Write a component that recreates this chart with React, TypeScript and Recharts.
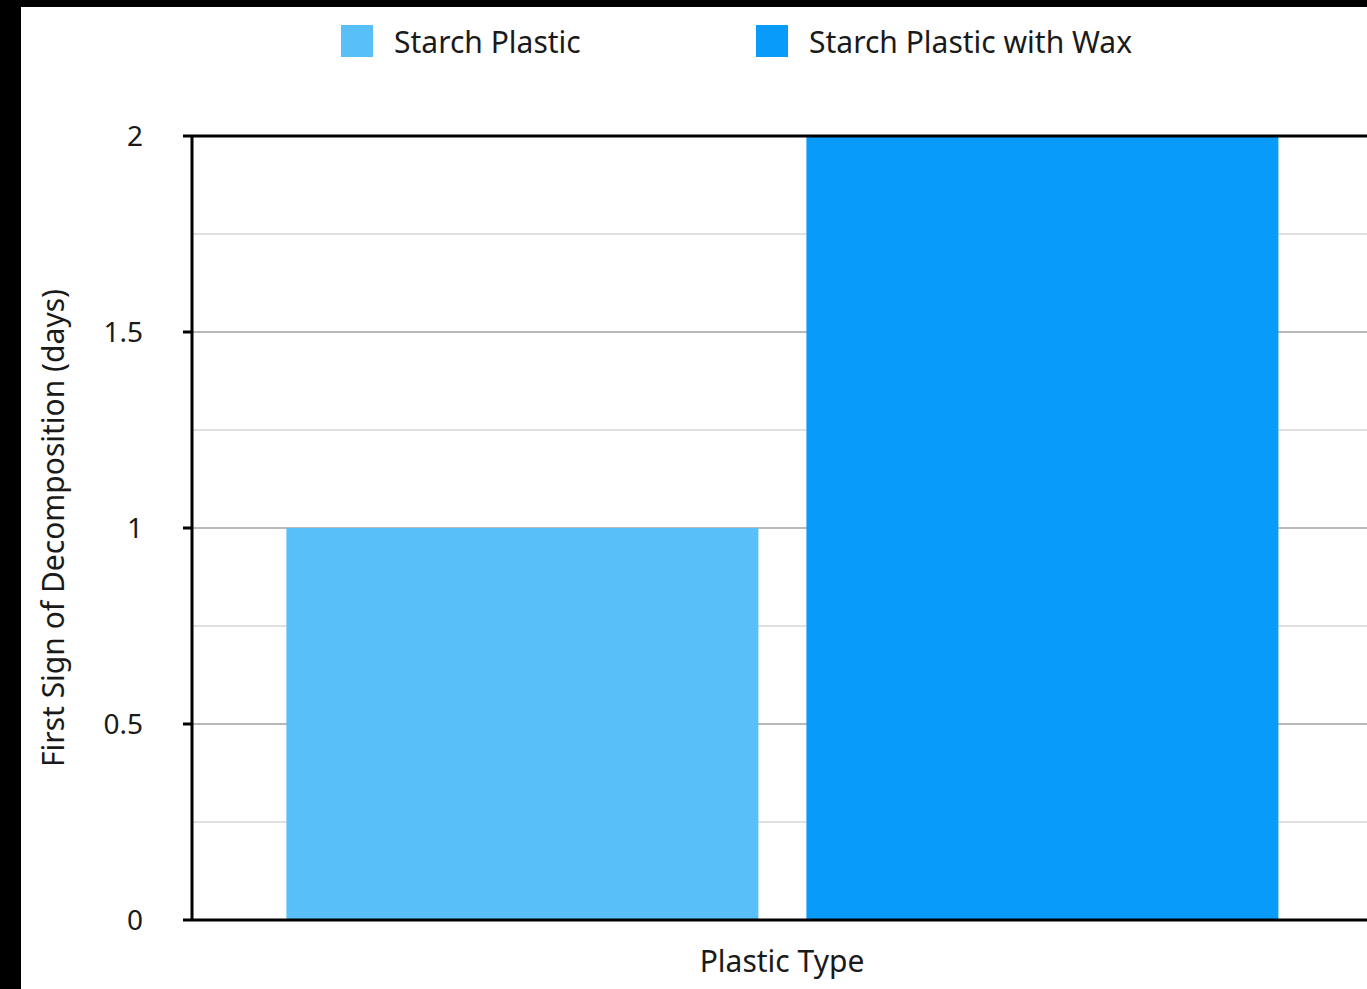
import React from 'react'
import { BarChart, Bar, XAxis, YAxis, CartesianGrid, ReferenceLine } from 'recharts'

const categories = ['Plastic Type']
const seriesNames = ['Starch Plastic', 'Starch Plastic with Wax']
const seriesColors = ['#58BFF9', '#089BFA']
const starchValues = [1]
const waxValues = [2]
const yTicks = [0, 0.5, 1, 1.5, 2]
const minorTicks = [0.25, 0.75, 1.25, 1.75]

const FONT = '"Noto Sans", "Open Sans", sans-serif'

const data = categories.map((c, i) => ({ type: c, starch: starchValues[i], wax: waxValues[i] }))

const YLabel = ({ viewBox }: any) => {
  const cy = viewBox.y + viewBox.height / 2
  return (
    <text x={52} y={cy} transform={`rotate(-90 52 ${cy})`} textAnchor="middle" dominantBaseline="central"
      style={{ fontFamily: FONT, fontSize: 30, fill: '#1a1a1a' }}>
      First Sign of Decomposition (days)
    </text>
  )
}

const XLabel = ({ viewBox }: any) => (
  <text x={viewBox.x + viewBox.width / 2} y={viewBox.y + 40} textAnchor="middle" dominantBaseline="central"
    style={{ fontFamily: FONT, fontSize: 30, fill: '#1a1a1a' }}>
    Plastic Type
  </text>
)

export default function App() {
  return (
    <div style={{ position: 'absolute', left: 0, top: 0, width: 1367, height: 989, background: '#000', overflow: 'hidden' }}>
      <div style={{ position: 'absolute', left: 21, top: 7, width: 1346, height: 982, background: '#fff' }} />

      {/* legend drawn as plain html so it doesn't eat into the plot margins */}
      <div style={{ position: 'absolute', left: 341, top: 25, display: 'flex', fontFamily: FONT, fontSize: 30, color: '#1a1a1a' }}>
        {seriesNames.map((name, i) => (
          <div key={name} style={{ width: 415, display: 'flex', alignItems: 'center', height: 32 }}>
            <span style={{ width: 32, height: 32, background: seriesColors[i], marginRight: 21, flex: 'none' }} />
            <span>{name}</span>
          </div>
        ))}
      </div>

      <div style={{ position: 'absolute', left: 0, top: 0 }}>
        <BarChart width={1400} height={989} data={data} margin={{ top: 136, right: 28, left: 0, bottom: 9 }}
          barCategoryGap="8%" barGap={48}>
          <CartesianGrid vertical={false} horizontalValues={minorTicks} stroke="#d4d4d4" strokeWidth={1.5} />
          <CartesianGrid vertical={false} horizontalValues={[0.5, 1, 1.5]} stroke="#b8b8b8" strokeWidth={2} />
          <XAxis dataKey="type" tick={false} height={60} axisLine={{ stroke: '#000', strokeWidth: 3 }} tickLine={false}
            label={<XLabel />} />
          <YAxis width={192} domain={[0, 2]} ticks={yTicks} interval={0} tickSize={9} tickMargin={40}
            axisLine={{ stroke: '#000', strokeWidth: 3 }} tickLine={{ stroke: '#000', strokeWidth: 3 }}
            tick={{ fontFamily: FONT, fontSize: 28, fill: '#1a1a1a' }} label={<YLabel />} />
          <Bar dataKey="starch" name={seriesNames[0]} fill={seriesColors[0]} isAnimationActive={false} />
          <Bar dataKey="wax" name={seriesNames[1]} fill={seriesColors[1]} isAnimationActive={false} />
          <ReferenceLine y={2} stroke="#000" strokeWidth={3} />
        </BarChart>
      </div>
    </div>
  )
}
